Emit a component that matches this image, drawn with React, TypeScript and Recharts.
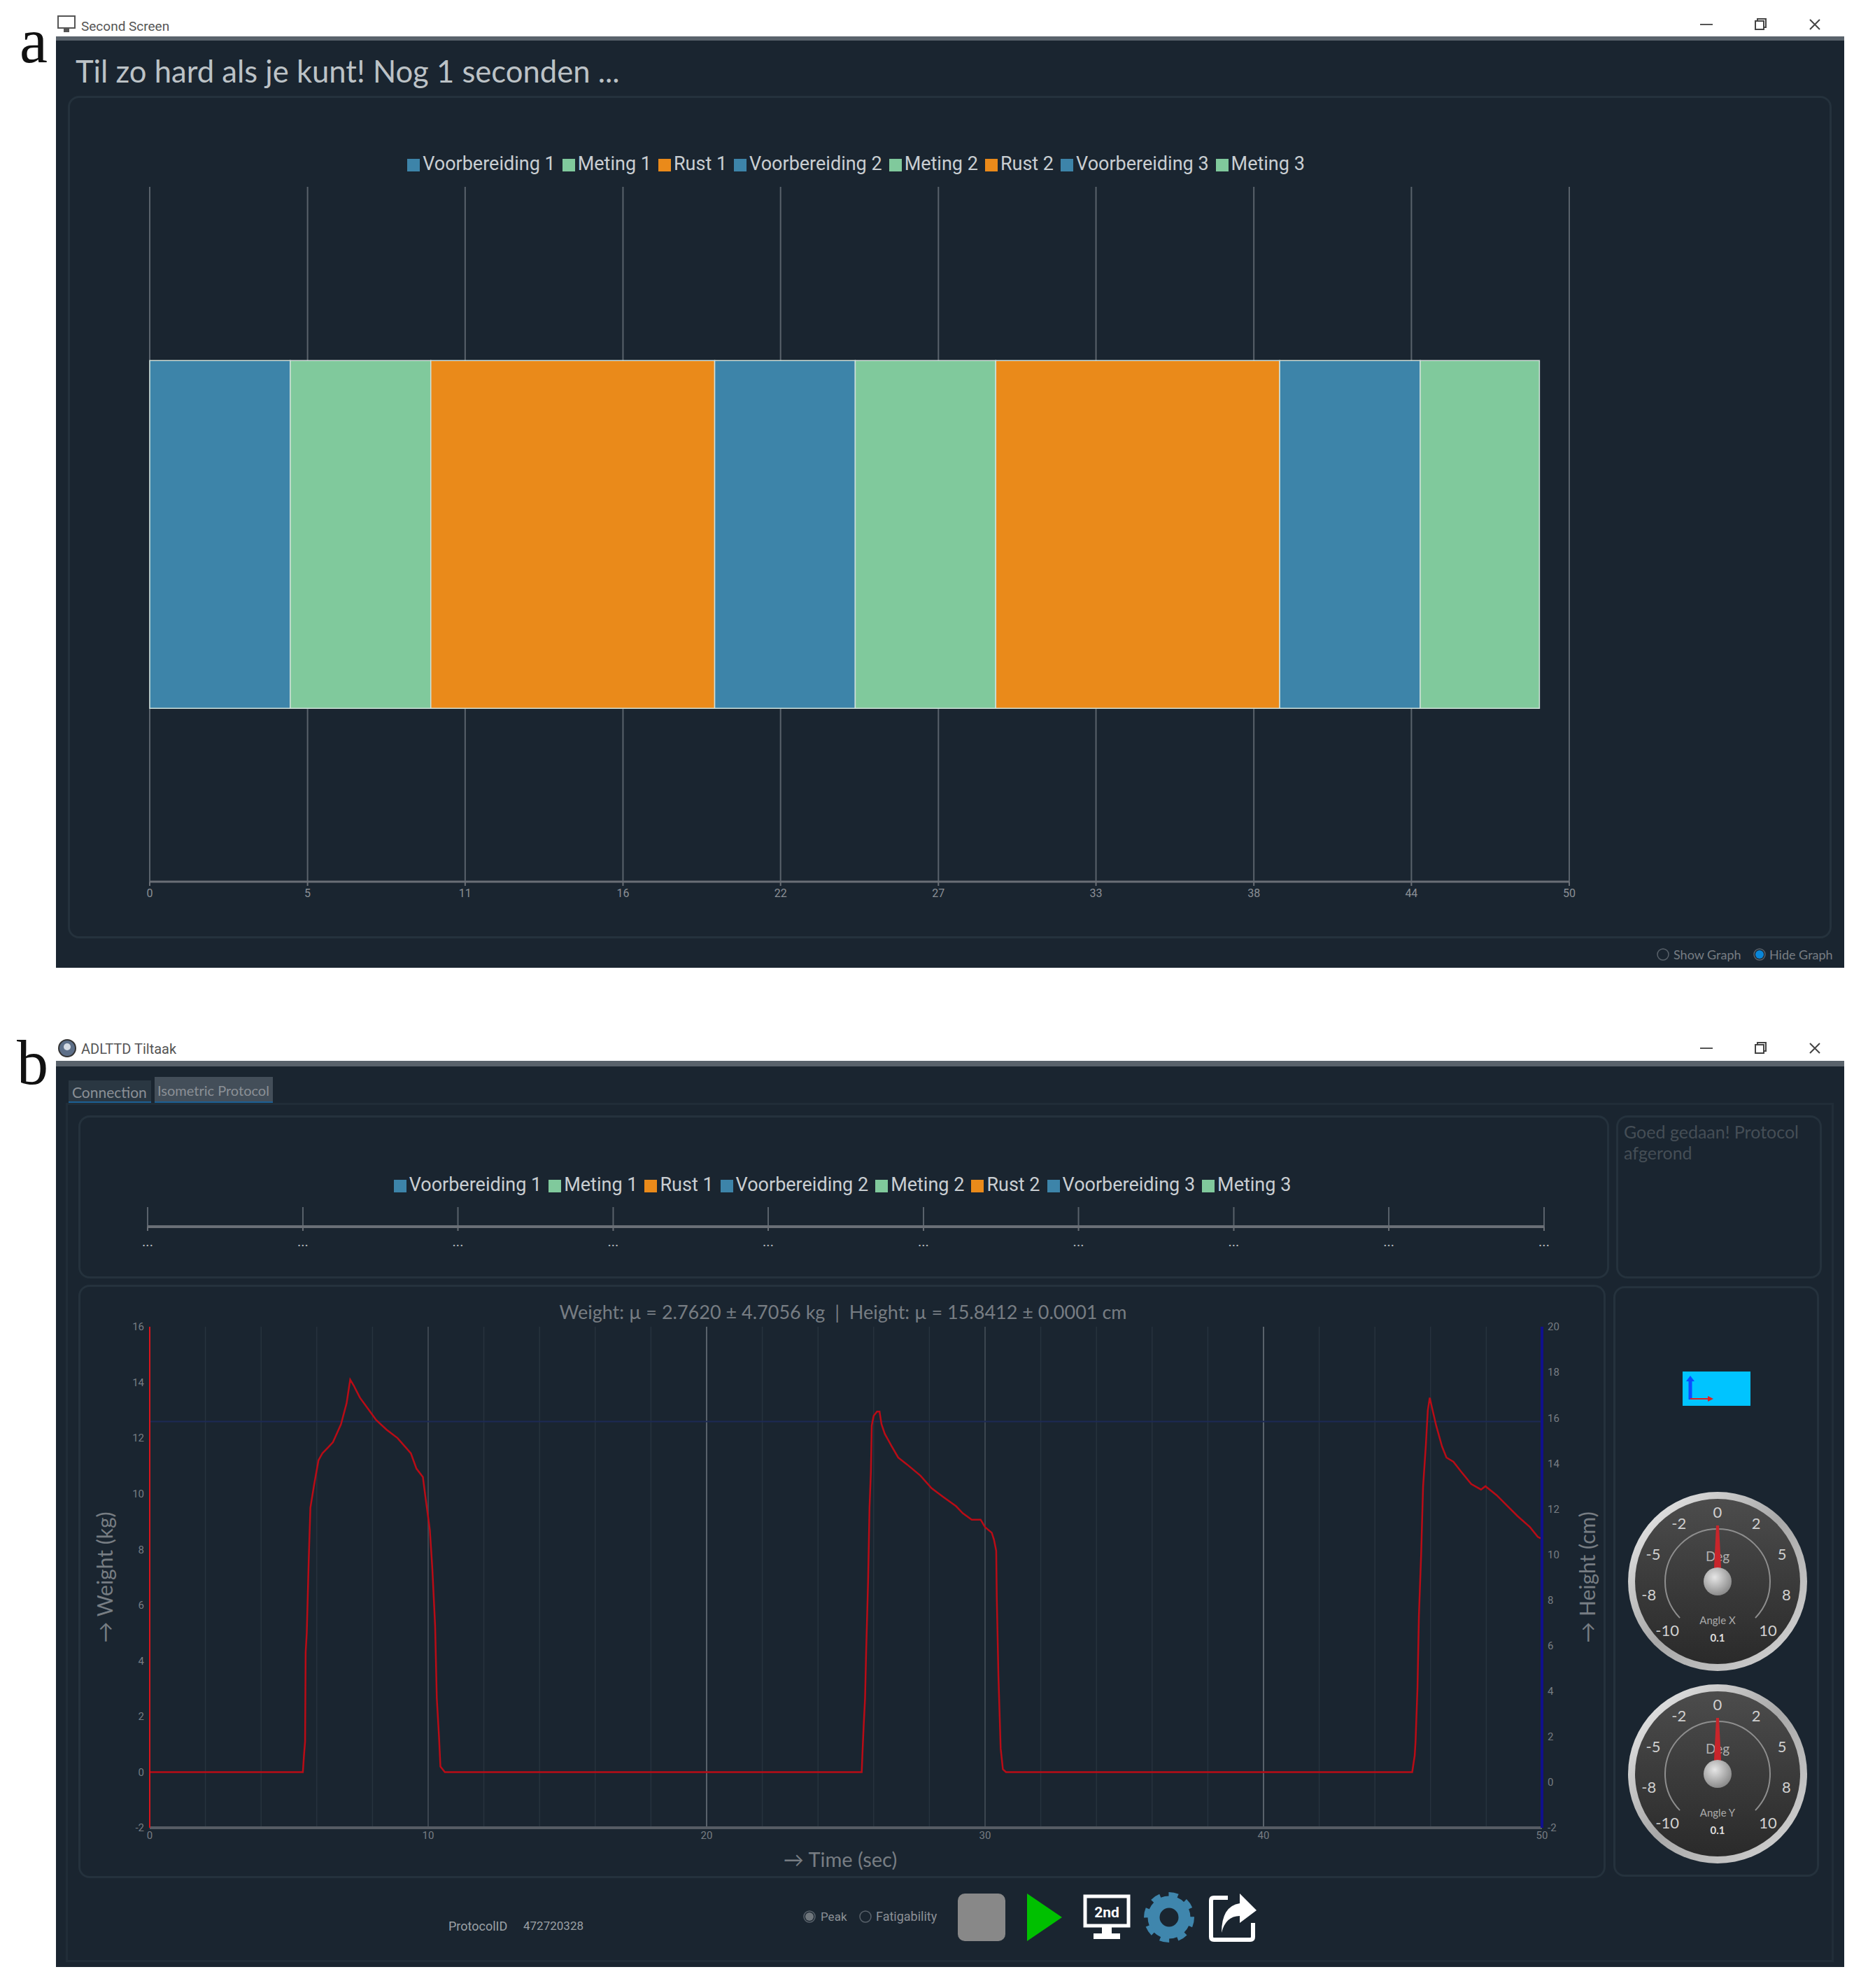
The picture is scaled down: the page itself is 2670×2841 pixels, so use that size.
import React from 'react';
import { BarChart, Bar, LineChart, Line, XAxis, YAxis, CartesianGrid, Legend } from 'recharts';

const COLORS = {
  bg: '#1a2530',
  panel: '#25323d',
  gridMajor: '#59626b',
  gridMid: '#49525b',
  gridMinor: '#27333e',
  axis: '#6a6f76',
  tick: '#8b9096',
  legend: '#c9ced2',
  soft: '#777d83',
  red: '#b90c16',
  redAxis: '#d8141c',
  navy: '#10108c',
  navyFaint: '#1d2a55',
  blue: '#3d84a9',
  green: '#80c99c',
  orange: '#ea8a1a',
};

// protocol phases, seconds
const phaseNames = ['Voorbereiding 1', 'Meting 1', 'Rust 1', 'Voorbereiding 2', 'Meting 2', 'Rust 2', 'Voorbereiding 3', 'Meting 3'];
const phaseSeconds = [4.95, 4.95, 10, 4.95, 4.95, 10, 4.95, 4.2];
const phaseColors = [COLORS.blue, COLORS.green, COLORS.orange, COLORS.blue, COLORS.green, COLORS.orange, COLORS.blue, COLORS.green];
const timelineTicks = [0, 5.56, 11.11, 16.67, 22.22, 27.78, 33.33, 38.89, 44.44, 50];

const timeTicks = [0, 10, 20, 30, 40, 50];
const timeMinorTicks = [2, 4, 6, 8, 12, 14, 16, 18, 22, 24, 26, 28, 32, 34, 36, 38, 42, 44, 46, 48];
const weightTicks = [-2, 0, 2, 4, 6, 8, 10, 12, 14, 16];
const heightTicks = [-2, 0, 2, 4, 6, 8, 10, 12, 14, 16, 18, 20];

const timeSec = [
  0, 5, 5.5, 5.54, 5.58, 5.6, 5.64, 5.71, 5.77, 5.9, 6.06, 6.2, 6.39, 6.58, 6.87, 7.07, 7.2, 7.32, 7.55, 7.84, 8.13, 8.51, 8.9,
  9.38, 9.58, 9.81, 9.9, 10.06, 10.15, 10.25, 10.31, 10.39, 10.44, 10.6, 15, 20, 25, 25.57, 25.6, 25.64, 25.69, 25.73, 25.8,
  25.85, 25.9, 25.93, 26, 26.12, 26.21, 26.28, 26.4, 26.65, 26.88, 27.2, 27.68, 28.08, 28.48, 28.96, 29.2, 29.52, 29.84, 30,
  30.24, 30.32, 30.4, 30.42, 30.48, 30.56, 30.64, 30.75, 35, 40, 45.34, 45.37, 45.43, 45.46, 45.53, 45.58, 45.66, 45.73, 45.83,
  45.9, 45.97, 46.06, 46.2, 46.41, 46.57, 46.82, 47.09, 47.46, 47.81, 47.97, 48.37, 48.77, 49.12, 49.57, 49.85, 49.95,
];
const weightKg = [
  0, 0, 0, 0.6, 1.1, 4.3, 5, 7.6, 9.5, 10.3, 11.2, 11.45, 11.65, 11.85, 12.5, 13.25, 14.1, 13.9, 13.45, 13.05, 12.65, 12.3, 12,
  11.45, 10.9, 10.6, 9.9, 8.7, 7.3, 5.25, 2.65, 1.25, 0.2, 0, 0, 0, 0, 0, 0.75, 1.65, 2.65, 4.35, 6.9,
  9.5, 10.8, 12.45, 12.8, 12.95, 12.95, 12.5, 12.15, 11.7, 11.3, 11.05, 10.65, 10.2, 9.9, 9.55, 9.3, 9.07, 9.07, 8.8,
  8.6, 8.35, 7.95, 6.3, 3.45, 0.85, 0.1, 0, 0, 0, 0, 0.2, 0.6, 1.1, 3.05, 5.6, 7.8, 10.25, 11.75,
  13, 13.45, 13.05, 12.45, 11.7, 11.3, 11.15, 10.8, 10.35, 10.15, 10.27, 9.95, 9.55, 9.2, 8.8, 8.45, 8.4,
];
const heightTime = [0, 50];
const heightCm = [15.84, 15.84];

const gaugeValues = [-10, -7.5, -5, -2.5, 0, 2.5, 5, 7.5, 10];
const gaugeLabels = ['-10', '-8', '-5', '-2', '0', '2', '5', '8', '10'];

const timelineRow = [phaseNames.reduce((row: any, name, i) => ({ ...row, [name]: phaseSeconds[i] }), { name: 'protocol' })];
const weightRows = timeSec.map((t, i) => ({ t, weight: weightKg[i] }));
const heightRows = heightTime.map((t, i) => ({ t, height: heightCm[i] }));

const FONT = 'Roboto, sans-serif';
const UI_FONT = 'Lato, sans-serif';

const Abs = ({ x, y, w, h, style, children }: any) => (
  <div style={{ position: 'absolute', left: x, top: y, width: w, height: h, boxSizing: 'border-box', ...style }}>{children}</div>
);

const Label = ({ x, y, size, color, font, children, style }: any) => (
  <div style={{ position: 'absolute', left: x, top: y, fontSize: size, lineHeight: 1, color: color, fontFamily: font || UI_FONT, whiteSpace: 'pre', ...style }}>
    {children}
  </div>
);

const Panel = ({ x, y, w, h }: any) => (
  <Abs x={x} y={y} w={w} h={h} style={{ border: `3px solid ${COLORS.panel}`, borderRadius: 16 }} />
);

const WindowControls = ({ y }: any) => (
  <svg style={{ position: 'absolute', left: 2420, top: y, width: 190, height: 26 }}>
    <line x1="10" y1="13" x2="28" y2="13" stroke="#555" strokeWidth="2" />
    <rect x="89" y="8" width="12" height="12" fill="none" stroke="#444" strokeWidth="2" />
    <path d="M92 8 V5 H104 V17 H101" fill="none" stroke="#444" strokeWidth="2" />
    <path d="M167 6 L181 20 M181 6 L167 20" stroke="#444" strokeWidth="2" />
  </svg>
);

const Radio = ({ x, y, on, fill }: any) => (
  <svg style={{ position: 'absolute', left: x - 10, top: y - 10, width: 20, height: 20 }}>
    <circle cx="10" cy="10" r="8" fill="none" stroke="#59626b" strokeWidth="1.5" />
    {on && <circle cx="10" cy="10" r="6" fill={fill} />}
  </svg>
);

const legendText = (value: string) => <span style={{ color: COLORS.legend }}>{value}</span>;

const Timeline = () => (
  <BarChart
    width={2521}
    height={1204}
    layout="vertical"
    data={timelineRow}
    barCategoryGap="25%"
    margin={{ top: 130, right: 375, bottom: 31, left: 117 }}
  >
    <CartesianGrid horizontal={false} stroke={COLORS.gridMajor} strokeWidth={2} />
    <XAxis
      type="number"
      domain={[0, 50]}
      ticks={timelineTicks}
      interval={0}
      height={50}
      tickMargin={5}
      tickFormatter={(v) => String(Math.floor(v))}
      axisLine={{ stroke: COLORS.axis, strokeWidth: 3 }}
      tickLine={{ stroke: COLORS.axis, strokeWidth: 2 }}
      tick={{ fill: COLORS.tick, fontSize: 16, fontFamily: FONT }}
    />
    <YAxis type="category" dataKey="name" hide />
    <Legend
      layout="horizontal"
      verticalAlign="middle"
      align="center"
      itemSorter={null}
      iconType="square"
      iconSize={18}
      formatter={legendText}
      wrapperStyle={{ top: 81, fontSize: 27, fontFamily: FONT }}
    />
    {phaseNames.map((name, i) => (
      <Bar key={name} dataKey={name} stackId="protocol" fill={phaseColors[i]} stroke="#cfe0da" strokeWidth={1.5} isAnimationActive={false} />
    ))}
  </BarChart>
);

const TimelineEmpty = () => (
  <BarChart
    width={2181}
    height={233}
    layout="vertical"
    data={timelineRow}
    margin={{ top: 131, right: 88, bottom: 24, left: 97 }}
  >
    <CartesianGrid horizontal={false} stroke={COLORS.gridMajor} strokeWidth={2} />
    <XAxis
      type="number"
      domain={[0, 50]}
      ticks={timelineTicks}
      interval={0}
      height={50}
      tickMargin={8}
      tickFormatter={() => '...'}
      axisLine={{ stroke: COLORS.axis, strokeWidth: 4 }}
      tickLine={{ stroke: COLORS.axis, strokeWidth: 2 }}
      tick={{ fill: '#b4b9bd', fontSize: 20, fontFamily: FONT }}
    />
    <YAxis type="category" dataKey="name" hide />
    <Legend
      layout="horizontal"
      verticalAlign="middle"
      align="center"
      itemSorter={null}
      iconType="square"
      iconSize={18}
      formatter={legendText}
      wrapperStyle={{ top: 83, fontSize: 27, fontFamily: FONT }}
    />
    {phaseNames.map((name, i) => (
      <Bar key={name} dataKey={name} stackId="protocol" fill={phaseColors[i]} fillOpacity={0} isAnimationActive={false} />
    ))}
  </BarChart>
);

const ForceChart = () => (
  <LineChart width={2181} height={848} data={weightRows} margin={{ top: 60, right: 0, bottom: 0, left: 0 }}>
    <CartesianGrid horizontal={false} verticalValues={timeMinorTicks} stroke={COLORS.gridMinor} strokeWidth={1.5} />
    <CartesianGrid horizontal={false} verticalValues={[10, 30]} stroke={COLORS.gridMid} strokeWidth={1.5} />
    <CartesianGrid horizontal={false} verticalValues={[20, 40]} stroke={COLORS.gridMajor} strokeWidth={2} />
    <XAxis
      dataKey="t"
      type="number"
      domain={[0, 50]}
      ticks={timeTicks}
      interval={0}
      height={72}
      tickSize={3}
      axisLine={{ stroke: '#565c64', strokeWidth: 4 }}
      tickLine={false}
      tick={{ fill: COLORS.soft, fontSize: 15, fontFamily: FONT }}
      label={{ value: '→ Time (sec)', position: 'insideBottom', offset: 16, dx: -8, fill: COLORS.soft, fontSize: 29, fontFamily: UI_FONT }}
    />
    <YAxis
      yAxisId="weight"
      domain={[-2, 16]}
      ticks={weightTicks}
      interval={0}
      width={100}
      axisLine={{ stroke: COLORS.redAxis, strokeWidth: 2 }}
      tickLine={false}
      tick={{ fill: COLORS.soft, fontSize: 15, fontFamily: FONT }}
      label={{ value: '→ Weight (kg)', angle: -90, position: 'insideLeft', offset: 36, textAnchor: 'middle', fill: COLORS.soft, fontSize: 30, fontFamily: UI_FONT }}
    />
    <YAxis
      yAxisId="height"
      orientation="right"
      domain={[-2, 20]}
      ticks={heightTicks}
      interval={0}
      width={91}
      axisLine={{ stroke: COLORS.navy, strokeWidth: 4 }}
      tickLine={false}
      tick={{ fill: COLORS.soft, fontSize: 15, fontFamily: FONT }}
      label={{ value: '→ Height (cm)', angle: -90, position: 'insideRight', offset: 26, textAnchor: 'middle', fill: COLORS.soft, fontSize: 30, fontFamily: UI_FONT }}
    />
    <Line yAxisId="height" data={heightRows} dataKey="height" stroke={COLORS.navyFaint} strokeWidth={2} dot={false} isAnimationActive={false} />
    <Line yAxisId="weight" dataKey="weight" stroke={COLORS.red} strokeWidth={2.5} dot={false} isAnimationActive={false} />
  </LineChart>
);

const Gauge = ({ x, y, id, name }: any) => {
  const R = 129;
  const polar = (deg: number, r: number) => {
    const a = (deg * Math.PI) / 180;
    return [R + r * Math.sin(a), R - r * Math.cos(a)];
  };
  const [ax, ay] = polar(-134, 75);
  const [bx, by] = polar(134, 75);
  return (
    <svg style={{ position: 'absolute', left: x - R, top: y - R, width: R * 2, height: R * 2 }}>
      <defs>
        <linearGradient id={`rim${id}`} x1="0" y1="0" x2="1" y2="1">
          <stop offset="0%" stopColor="#f2f2f2" />
          <stop offset="50%" stopColor="#a8a8a8" />
          <stop offset="100%" stopColor="#d8d8d8" />
        </linearGradient>
        <linearGradient id={`face${id}`} x1="0" y1="0" x2="0" y2="1">
          <stop offset="0%" stopColor="#4c4c4c" />
          <stop offset="100%" stopColor="#2a2a2a" />
        </linearGradient>
        <radialGradient id={`hub${id}`} cx="0.4" cy="0.35" r="0.8">
          <stop offset="0%" stopColor="#e6e6e6" />
          <stop offset="100%" stopColor="#777" />
        </radialGradient>
      </defs>
      <circle cx={R} cy={R} r={R - 1} fill={`url(#rim${id})`} />
      <circle cx={R} cy={R} r={R - 11} fill={`url(#face${id})`} />
      <path d={`M${ax} ${ay} A75 75 0 1 1 ${bx} ${by}`} fill="none" stroke="#8e8e8e" strokeWidth="2" />
      {gaugeValues.map((v, i) => {
        const [tx, ty] = polar(v * 13.4, 100);
        return (
          <text key={v} x={tx} y={ty} fill="#d0d0d0" fontSize="22" fontFamily={UI_FONT} textAnchor="middle" dominantBaseline="central">
            {gaugeLabels[i]}
          </text>
        );
      })}
      <text x={R} y={R - 37} fill="#b0b0b0" fontSize="19" fontFamily={UI_FONT} textAnchor="middle" dominantBaseline="central">Deg</text>
      <text x={R} y={R + 55} fill="#aaa" fontSize="15" fontFamily={UI_FONT} textAnchor="middle" dominantBaseline="central">{name}</text>
      <text x={R} y={R + 80} fill="#ddd" fontSize="15" fontWeight="700" fontFamily={UI_FONT} textAnchor="middle" dominantBaseline="central">0.1</text>
      <path d={`M${R - 6} ${R} L${R - 2} ${R - 80} L${R + 2} ${R - 80} L${R + 6} ${R} Z`} fill="#c8252b" />
      <circle cx={R} cy={R} r={20} fill={`url(#hub${id})`} />
    </svg>
  );
};

const Toolbar = () => (
  <svg style={{ position: 'absolute', left: 1360, top: 2700, width: 450, height: 80 }}>
    <rect x="9" y="6" width="68" height="68" rx="10" fill="#888" />
    <path d="M108 6 L158 40 L108 74 Z" fill="#00c000" />
    <rect x="191" y="10" width="62" height="42" fill="#1a2530" stroke="#fff" strokeWidth="5" />
    <rect x="215" y="52" width="14" height="12" fill="#fff" />
    <rect x="203" y="63" width="38" height="8" fill="#fff" />
    <text x="222" y="40" fill="#fff" fontSize="21" fontWeight="700" fontFamily={FONT} textAnchor="middle">2nd</text>
    <circle cx="311" cy="40" r="22" fill="none" stroke="#3f86ad" strokeWidth="17" />
    <circle cx="311" cy="40" r="32" fill="none" stroke="#3f86ad" strokeWidth="8" strokeDasharray="13 12" />
    <path d="M395 12 H375 Q371 12 371 16 V68 Q371 72 375 72 H427 Q431 72 431 68 V48" fill="none" stroke="#fff" strokeWidth="6" />
    <path d="M412 6 L436 30 L412 48 V38 Q392 38 386 62 Q386 24 412 20 Z" fill="#fff" />
  </svg>
);

export default function App() {
  return (
    <div style={{ position: 'absolute', left: 0, top: 0, width: 2670, height: 2841, background: '#fff', overflow: 'hidden' }}>
      <Label x={28} y={14} size={90} color="#111" font="'Liberation Serif', serif">a</Label>
      <Label x={24} y={1474} size={90} color="#111" font="'Liberation Serif', serif">b</Label>

      {/* window a */}
      <Label x={116} y={28} size={19} color="#555" font={FONT}>Second Screen</Label>
      <svg style={{ position: 'absolute', left: 82, top: 22, width: 28, height: 28 }}>
        <rect x="1" y="1" width="24" height="17" fill="#fff" stroke="#555" strokeWidth="2" />
        <rect x="9" y="18" width="8" height="6" fill="#555" />
      </svg>
      <WindowControls y={22} />
      <Abs x={80} y={52} w={2556} h={1331} style={{ background: COLORS.bg, borderTop: '6px solid #59626b' }} />
      <Label x={108} y={80} size={43.6} color="#bcc2c6">Til zo hard als je kunt! Nog 1 seconden ...</Label>
      <Panel x={97} y={137} w={2521} h={1204} />
      <Abs x={97} y={137} w={2521} h={1204}><Timeline /></Abs>
      <Radio x={2377} y={1364} />
      <Label x={2392} y={1355} size={18} color={COLORS.soft}>Show Graph</Label>
      <Radio x={2515} y={1364} on fill="#0a86d8" />
      <Label x={2529} y={1355} size={18} color={COLORS.soft}>Hide Graph</Label>

      {/* window b */}
      <Label x={116} y={1489} size={20} color="#555" font={FONT}>ADLTTD Tiltaak</Label>
      <svg style={{ position: 'absolute', left: 82, top: 1484, width: 28, height: 28 }}>
        <circle cx="14" cy="14" r="12" fill="#5d6f88" stroke="#333" strokeWidth="2" />
        <circle cx="14" cy="12" r="5" fill="#d5dbe3" />
      </svg>
      <WindowControls y={1485} />
      <Abs x={80} y={1516} w={2556} h={1295} style={{ background: COLORS.bg, borderTop: '8px solid #59626b' }} />

      <Abs x={98} y={1544} w={118} h={33} style={{ background: '#2a3742', borderBottom: '3px solid #1c5f94' }} />
      <Label x={103} y={1550} size={21} color={COLORS.tick}>Connection</Label>
      <Abs x={221} y={1539} w={169} h={38} style={{ background: '#434e59', borderBottom: '3px solid #1c5f94' }} />
      <Label x={225} y={1548} size={20} color={COLORS.tick}>Isometric Protocol</Label>
      <Abs x={94} y={1576} w={2527} h={1228} style={{ border: `3px solid #212d38` }} />

      <Panel x={112} y={1594} w={2188} h={233} />
      <Panel x={2310} y={1594} w={294} h={233} />
      <Panel x={112} y={1836} w={2183} h={848} />
      <Panel x={2306} y={1838} w={294} h={844} />

      <Abs x={114} y={1594} w={2181} h={233}><TimelineEmpty /></Abs>
      <Label x={2321} y={1605} size={25} color="#454e56">Goed gedaan! Protocol</Label>
      <Label x={2321} y={1635} size={25} color="#454e56">afgerond</Label>

      <Abs x={114} y={1836} w={2181} h={848}><ForceChart /></Abs>
      <Label x={1205} y={1861} size={27} color={COLORS.soft} style={{ transform: 'translateX(-50%)' }}>
        {'Weight: µ = 2.7620 ± 4.7056 kg  |  Height: µ = 15.8412 ± 0.0001 cm'}
      </Label>

      <svg style={{ position: 'absolute', left: 2405, top: 1960, width: 97, height: 49 }}>
        <rect width="97" height="49" fill="#00c4ff" />
        <line x1="11" y1="12" x2="11" y2="40" stroke="#0a4dff" strokeWidth="5" />
        <path d="M5 14 L11 6 L17 14 Z" fill="#0a4dff" />
        <line x1="11" y1="39" x2="38" y2="39" stroke="#e02020" strokeWidth="2" />
        <path d="M36 35 L44 39 L36 43 Z" fill="#e02020" />
      </svg>
      <Gauge x={2455} y={2260} id="x" name="Angle X" />
      <Gauge x={2455} y={2535} id="y" name="Angle Y" />

      <Label x={641} y={2744} size={18} color="#9aa0a5" font={FONT}>ProtocolID</Label>
      <Label x={748} y={2744} size={17} color="#9aa0a5" font={FONT}>472720328</Label>
      <Radio x={1157} y={2739} on fill="#6f767c" />
      <Label x={1173} y={2731} size={17} color="#8b9096" font={FONT}>Peak</Label>
      <Radio x={1237} y={2739} />
      <Label x={1252} y={2730} size={18} color="#8b9096" font={FONT}>Fatigability</Label>
      <Toolbar />
    </div>
  );
}
